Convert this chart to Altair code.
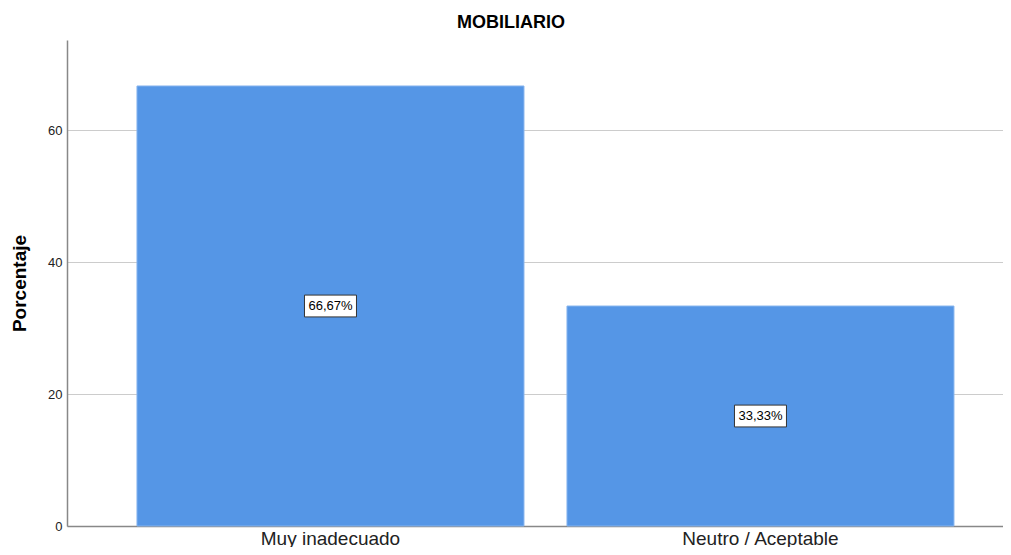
import altair as alt
import pandas as pd

categories = ["Muy inadecuado", "Neutro / Aceptable"]
values = [66.67, 33.33]
labels = ["66,67%", "33,33%"]

df = pd.DataFrame({"cat": categories, "val": values, "lab": labels})
df["mid"] = df["val"] / 2

FONT = "Liberation Sans"

x = alt.X(
    "cat:N",
    sort=categories,
    scale=alt.Scale(paddingInner=0.1, paddingOuter=0.1384, align=0.588),
    axis=alt.Axis(
        title=None, labelAngle=0, ticks=False, labelFontSize=19, labelFont=FONT,
        labelColor="#222222", labelPadding=3, domainColor="#888888", domainWidth=1.5,
        grid=False,
    ),
)

bars = alt.Chart(df).mark_bar(color="#5596e6", stroke="#86b4ee", strokeWidth=1).encode(
    x=x,
    y=alt.Y(
        "val:Q",
        scale=alt.Scale(domain=[0, 73.64], nice=False, zero=True),
        axis=alt.Axis(
            title="Porcentaje", values=[0, 20, 40, 60], ticks=False, labelFontSize=13,
            labelFont=FONT, labelColor="#222222", labelPadding=5,
            titleFont=FONT, titleFontSize=19, titleFontWeight="bold", titleColor="#000000",
            titleX=-38, titleY=243, titleAngle=-90, titleBaseline="bottom", titleAlign="center",
            domainColor="#888888", domainWidth=1.5,
            grid=True, gridColor="#cccccc", gridWidth=1,
        ),
    ),
)

boxes = alt.Chart(df).mark_point(
    shape="M-1,-0.42L1,-0.42L1,0.42L-1,0.42Z", size=2704, filled=True,
    fill="white", stroke="#333333", strokeWidth=1, opacity=1,
).encode(x=alt.X("cat:N", sort=categories), y=alt.Y("mid:Q"))

texts = alt.Chart(df).mark_text(
    font=FONT, fontSize=13, color="#000000", align="center", baseline="middle",
).encode(x=alt.X("cat:N", sort=categories), y=alt.Y("mid:Q"), text="lab:N")

chart = alt.layer(bars, boxes, texts).properties(
    width=936, height=486,
    title=alt.TitleParams("MOBILIARIO", font=FONT, fontSize=18, fontWeight="bold",
                          color="#000000", anchor="middle", dx=-24, offset=8),
    autosize=alt.AutoSizeParams(type="none"),
    padding={"left": 59, "top": 32, "right": 0, "bottom": 21},
).configure_view(stroke=None)

chart.save("out.html", embed_options={"renderer": "svg", "actions": False})
